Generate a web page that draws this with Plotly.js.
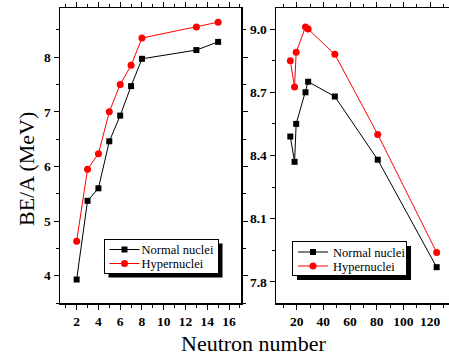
<!DOCTYPE html>
<html>
<head>
<meta charset="utf-8">
<script src="https://cdn.plot.ly/plotly-3.0.1.min.js"></script>
<style>
html,body{margin:0;padding:0;overflow:hidden;background:#fff;}
#chart{width:460px;height:356px;}
</style>
</head>
<body>
<div id="chart"></div>
<script>
// Left panel: light nuclei
const neutronsLeft = [2, 3, 4, 5, 6, 7, 8, 13, 15];
const normalLeft = [3.93, 5.37, 5.60, 6.46, 6.93, 7.47, 7.97, 8.13, 8.28];
const hyperLeft = [4.63, 5.95, 6.23, 7.00, 7.50, 7.85, 8.35, 8.55, 8.64];
// Right panel: heavier nuclei
const neutronsRight = [15.2, 18.4, 19.6, 26.6, 28.6, 48.6, 80.8, 125];
const normalRight = [8.49, 8.37, 8.55, 8.70, 8.75, 8.68, 8.38, 7.87];
const hyperRight = [8.85, 8.725, 8.89, 9.01, 9.00, 8.88, 8.50, 7.94];

const seriesNames = ["Normal nuclei", "Hypernuclei"];
const xTitle = "Neutron number";
const yTitle = "BE/A (MeV)";

const W = 460, H = 356, mT = 8, mB = 53;
const plotH = H - mT - mB;
const px = v => v / W;
const py = v => (H - mB - v) / plotH;

const serif = "Liberation Serif";
const tickFont = {family: serif, size: 13.5, color: "#000", weight: "bold"};

const normalStyle = {color: "#000", width: 1};
const hyperStyle = {color: "#ff0000", width: 1};

const traces = [
  {x: neutronsLeft, y: normalLeft, name: seriesNames[0], xaxis: "x", yaxis: "y", mode: "lines+markers",
   line: normalStyle, marker: {symbol: "square", size: 6, color: "#000"}, legend: "legend"},
  {x: neutronsLeft, y: hyperLeft, name: seriesNames[1], xaxis: "x", yaxis: "y", mode: "lines+markers",
   line: hyperStyle, marker: {symbol: "circle", size: 7, color: "#ff0000"}, legend: "legend"},
  {x: neutronsRight, y: normalRight, name: seriesNames[0], xaxis: "x2", yaxis: "y2", mode: "lines+markers",
   line: normalStyle, marker: {symbol: "square", size: 6, color: "#000"}, legend: "legend2"},
  {x: neutronsRight, y: hyperRight, name: seriesNames[1], xaxis: "x2", yaxis: "y2", mode: "lines+markers",
   line: hyperStyle, marker: {symbol: "circle", size: 7, color: "#ff0000"}, legend: "legend2"}
];

function axis(extra) {
  return Object.assign({
    showgrid: false, zeroline: false, showline: true, linecolor: "#000", linewidth: 1.5,
    mirror: "ticks", ticks: "outside", ticklen: 5, tickwidth: 1, tickcolor: "#000",
    tickfont: tickFont, fixedrange: true
  }, extra);
}

const legendCommon = {
  bgcolor: "#fff", bordercolor: "#000", borderwidth: 1,
  font: {family: serif, size: 12.5, color: "#000"},
  xanchor: "left", yanchor: "top", tracegroupgap: 0, itemwidth: 30
};

// legend boxes as seen in the reference (pixels): left, top, width, height
const legendBoxes = {legend: [103.5, 238.5, 114, 34], legend2: [292, 241, 114, 34]};
const shadowOffset = 5;

function shadow(b) {
  return {type: "rect", xref: "paper", yref: "paper",
    x0: px(b[0] + shadowOffset), x1: px(b[0] + b[2] + shadowOffset),
    y0: py(b[1] + b[3] + shadowOffset), y1: py(b[1] + shadowOffset),
    fillcolor: "#000", line: {width: 0}, layer: "above"};
}

const layout = {
  width: W, height: H,
  margin: {l: 0, r: 0, t: mT, b: mB, pad: 0},
  paper_bgcolor: "#fff", plot_bgcolor: "#fff",
  xaxis: axis({domain: [px(60), px(241)], range: [0.47, 17.1], tick0: 0, dtick: 2,
    minor: {dtick: 1, ticklen: 3, tickcolor: "#000", ticks: "outside"}, anchor: "y"}),
  yaxis: axis({domain: [0, 1], range: [3.5, 8.9], tick0: 0, dtick: 1,
    minor: {dtick: 0.5, ticklen: 3, tickcolor: "#000", ticks: "outside"}, anchor: "x"}),
  xaxis2: axis({domain: [px(276), px(455)], range: [4.47, 138.75], tick0: 0, dtick: 20,
    minor: {dtick: 10, ticklen: 3, tickcolor: "#000", ticks: "outside"}, anchor: "y2"}),
  yaxis2: axis({domain: [0, 1], range: [7.7, 9.1], tick0: 7.8, dtick: 0.3, tickformat: ".1f",
    minor: {dtick: 0.15, ticklen: 3, tickcolor: "#000", ticks: "outside"}, anchor: "x2"}),
  legend: Object.assign({x: px(legendBoxes.legend[0]), y: py(legendBoxes.legend[1])}, legendCommon),
  legend2: Object.assign({x: px(legendBoxes.legend2[0]), y: py(legendBoxes.legend2[1])}, legendCommon),
  shapes: [shadow(legendBoxes.legend), shadow(legendBoxes.legend2)],
  annotations: [
    {text: xTitle, xref: "paper", yref: "paper", x: px(253), y: py(343), xanchor: "center", yanchor: "middle",
     showarrow: false, font: {family: serif, size: 22, color: "#000"}},
    {text: yTitle, xref: "paper", yref: "paper", x: px(26), y: py(169), xanchor: "center", yanchor: "middle",
     textangle: -90, showarrow: false, font: {family: serif, size: 22, color: "#000"}}
  ],
  showlegend: true
};

Plotly.newPlot("chart", traces, layout, {displayModeBar: false, staticPlot: true}).then(function (gd) {
  // tighten the legend entries to the compact spacing of the reference
  const entryCenters = [11, 25];
  gd.querySelectorAll(".infolayer > g").forEach(function (g) {
    const cls = g.getAttribute("class") || "";
    const m = cls.match(/^(legend\d*)/);
    if (!m || !legendBoxes[m[1]]) return;
    const box = legendBoxes[m[1]];
    const bg = g.querySelector("rect.bg");
    if (bg) { bg.setAttribute("height", box[3]); bg.setAttribute("width", box[2]); }
    g.querySelectorAll("g.traces").forEach(function (t, i) {
      t.setAttribute("transform", "translate(1," + entryCenters[i] + ")");
      const tx = t.querySelector("text.legendtext");
      if (tx) tx.setAttribute("x", 37);
    });
  });
});
</script>
</body>
</html>
